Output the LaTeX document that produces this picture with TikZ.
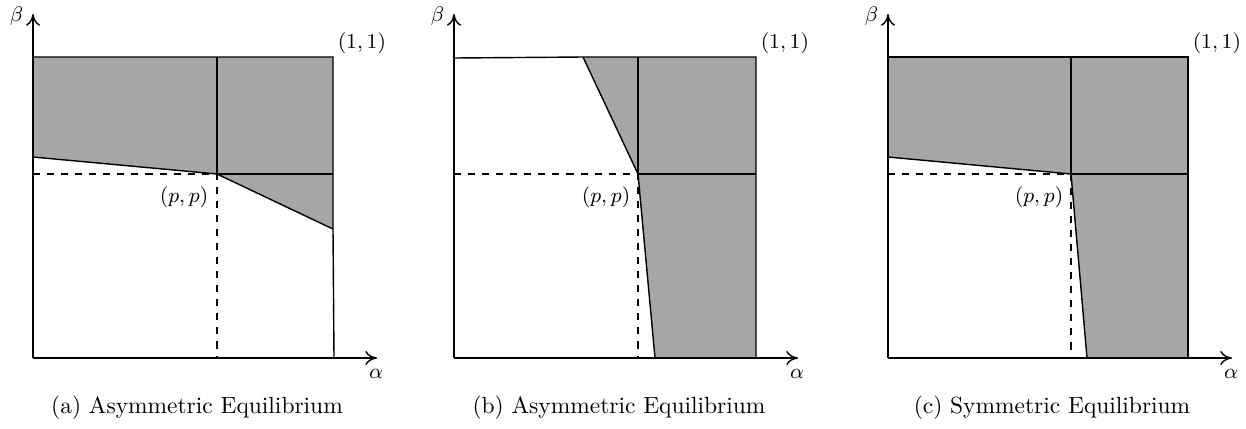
\documentclass[tikz,border=0pt]{standalone}
\usetikzlibrary{arrows.meta}
\definecolor{regiongray}{RGB}{166,166,166}
\tikzset{
  axis/.style={semithick,-{To[length=5pt,width=6pt]}},
  bound/.style={semithick},
  guide/.style={semithick,dashed},
  shade/.style={fill=regiongray},
  lab/.style={font=\small,inner sep=1pt},
  captext/.style={font=\normalsize}
}
\begin{document}
\begin{tikzpicture}[x=0.015cm,y=-0.015cm]
\useasboundingbox (0,0) rectangle (1246,428);
% ---------- panel (a)
\coordinate (aO) at (33,358);
\coordinate (aP) at (217,174);
\coordinate (aL) at (33,157);
\coordinate (aR) at (333,229);
\coordinate (aTL) at (33,57);
\coordinate (aTR) at (333,57);
\coordinate (aBR) at (334,358);
\coordinate (aXE) at (377,358);
\coordinate (aYE) at (33,14);
\fill[shade] (aTL) -- (aTR) -- (aR) -- (aP) -- (aL) -- cycle;
\draw[bound] (aTL) -- (aTR) -- (aR) -- (aBR);
\draw[bound] (aL) -- (aP) -- (aR);
\draw[bound] (aP) -- (217,57);
\draw[bound] (aP) -- (333,174);
\draw[guide] (33,174) -- (aP) -- (217,358);
\draw[axis] (aO) -- (aXE);
\draw[axis] (aO) -- (aYE);
\node[lab,anchor=east] (abeta) at (26,16) {$\beta$};
\node[lab] (aalpha) at (376,374) {$\alpha$};
\node[lab,anchor=south west] (aone) at (335,57) {$(1,1)$};
\node[lab,anchor=north east] (app) at (211,184) {$(p,p)$};
\node[captext] (acap) at (197,408) {(a) Asymmetric Equilibrium};
% ---------- panel (b)
\coordinate (bO) at (454,358);
\coordinate (bP) at (638,174);
\coordinate (bT) at (583,57);
\coordinate (bB) at (655,358);
\coordinate (bTL) at (454,58);
\coordinate (bTR) at (756,57);
\coordinate (bBR) at (756,358);
\coordinate (bXE) at (798,358);
\coordinate (bYE) at (454,14);
\fill[shade] (bT) -- (bTR) -- (bBR) -- (bB) -- (bP) -- cycle;
\draw[bound] (bTL) -- (bT) -- (bTR) -- (bBR);
\draw[bound] (bT) -- (bP) -- (bB);
\draw[bound] (bP) -- (638,57);
\draw[bound] (bP) -- (756,174);
\draw[guide] (454,174) -- (bP) -- (638,358);
\draw[axis] (bO) -- (bXE);
\draw[axis] (bO) -- (bYE);
\node[lab,anchor=east] (bbeta) at (447,16) {$\beta$};
\node[lab] (balpha) at (797,374) {$\alpha$};
\node[lab,anchor=south west] (bone) at (758,57) {$(1,1)$};
\node[lab,anchor=north east] (bpp) at (633,184) {$(p,p)$};
\node[captext] (bcap) at (619,408) {(b) Asymmetric Equilibrium};
% ---------- panel (c)
\coordinate (cO) at (888,358);
\coordinate (cP) at (1071,174);
\coordinate (cL) at (888,157);
\coordinate (cB) at (1087,358);
\coordinate (cTL) at (888,57);
\coordinate (cTR) at (1188,57);
\coordinate (cBR) at (1188,358);
\coordinate (cXE) at (1232,358);
\coordinate (cYE) at (888,14);
\fill[shade] (cTL) -- (cTR) -- (cBR) -- (cB) -- (cP) -- (cL) -- cycle;
\draw[bound] (cTL) -- (cTR) -- (cBR);
\draw[bound] (cL) -- (cP) -- (cB);
\draw[bound] (cP) -- (1071,57);
\draw[bound] (cP) -- (1188,174);
\draw[guide] (888,174) -- (cP) -- (1071,358);
\draw[axis] (cO) -- (cXE);
\draw[axis] (cO) -- (cYE);
\node[lab,anchor=east] (cbeta) at (881,16) {$\beta$};
\node[lab] (calpha) at (1231,374) {$\alpha$};
\node[lab,anchor=south west] (cone) at (1190,57) {$(1,1)$};
\node[lab,anchor=north east] (cpp) at (1066,184) {$(p,p)$};
\node[captext] (ccap) at (1052,408) {(c) Symmetric Equilibrium};
\end{tikzpicture}
\end{document}
